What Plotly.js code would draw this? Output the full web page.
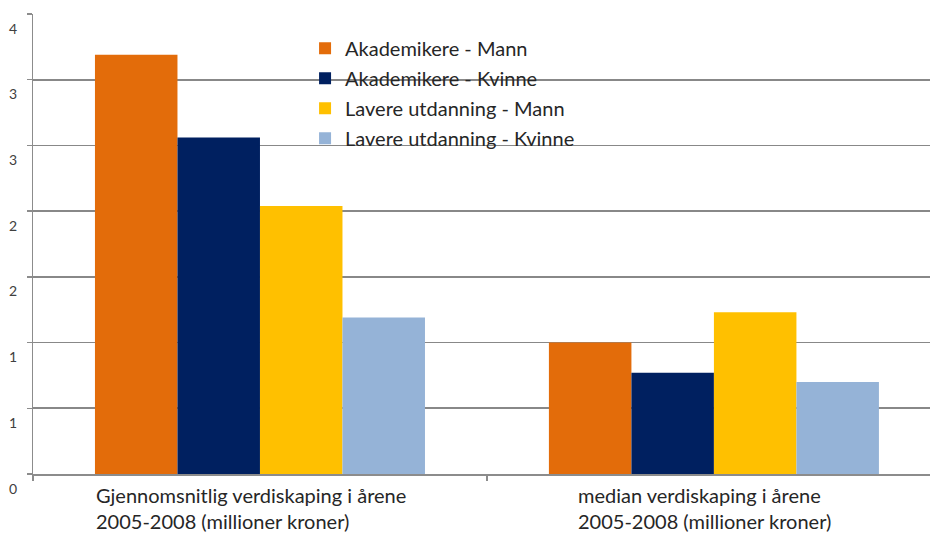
<!DOCTYPE html>
<html>
<head>
<meta charset="utf-8">
<script src="https://cdn.plot.ly/plotly-3.0.1.min.js"></script>
<style>html,body{margin:0;padding:0;background:#fff;}#chart{width:930px;height:533px;}</style>
</head>
<body>
<div id="chart"></div>
<script>
const categories = ["Gjennomsnitlig verdiskaping i årene<br>2005-2008 (millioner kroner)",
                    "median verdiskaping i årene<br>2005-2008 (millioner kroner)"];
const seriesNames = ["Akademikere - Mann", "Akademikere - Kvinne", "Lavere utdanning - Mann", "Lavere utdanning - Kvinne"];
const akademikereMann = [3.19, 1.00];
const akademikereKvinne = [2.56, 0.77];
const lavereMann = [2.04, 1.23];
const lavereKvinne = [1.19, 0.70];
const yTickVals = [0, 0.5, 1, 1.5, 2, 2.5, 3, 3.5];
const yTickText = ["0", "1", "1", "2", "2", "3", "3", "4"];

const colors = ["#E36C0A", "#002060", "#FFC000", "#95B3D7"];
const seriesValues = [akademikereMann, akademikereKvinne, lavereMann, lavereKvinne];
const FONT = "Lato, 'Open Sans', sans-serif";

const traces = seriesValues.map((vals, i) => ({
  type: "bar",
  name: seriesNames[i],
  x: categories,
  y: vals,
  legendgroup: "g" + i,
  marker: { color: colors[i], line: { width: 0 } },
  hoverinfo: "skip"
}));

const annotations = [];
yTickVals.forEach((v, i) => {
  annotations.push({
    xref: "paper", yref: "y", x: 0, y: v,
    xanchor: "right", yanchor: "middle", xshift: -14, yshift: -14,
    text: yTickText[i], showarrow: false,
    font: { family: FONT, size: 14, color: "#404040" }
  });
});
categories.forEach((c) => {
  annotations.push({
    xref: "x", yref: "paper", x: c, y: 0,
    xanchor: "center", yanchor: "top", align: "left", xshift: -9, yshift: -7,
    text: c, showarrow: false,
    font: { family: FONT, size: 20, color: "#262626" }
  });
});

const layout = {
  width: 930, height: 533,
  margin: { l: 33, r: 0, t: 14, b: 59 },
  paper_bgcolor: "#fff", plot_bgcolor: "#fff",
  barmode: "group", bargap: 0.273, bargroupgap: 0,
  font: { family: FONT, color: "#262626" },
  xaxis: {
    type: "category", range: [-0.5, 1.476],
    showticklabels: false, showgrid: false, zeroline: false,
    showline: true, linecolor: "#8c8c8c", linewidth: 1.5,
    ticks: "outside", tickson: "boundaries", ticklen: 5, tickcolor: "#8c8c8c", tickwidth: 1.5
  },
  yaxis: {
    range: [0, 3.5], tickvals: yTickVals, showticklabels: false,
    showgrid: true, gridcolor: "#888888", gridwidth: 1.8, zeroline: false,
    showline: true, linecolor: "#8c8c8c", linewidth: 1.5,
    ticks: "outside", ticklen: 5, tickcolor: "#8c8c8c", tickwidth: 1.5
  },
  showlegend: true,
  legend: {
    x: 0.3033, xanchor: "left", y: 0.968, yanchor: "top",
    bgcolor: "rgba(0,0,0,0)", tracegroupgap: 1,
    font: { family: FONT, size: 20, color: "#262626" }
  },
  annotations: annotations
};

Plotly.newPlot("chart", traces, layout, { displayModeBar: false, staticPlot: true });
</script>
</body>
</html>
